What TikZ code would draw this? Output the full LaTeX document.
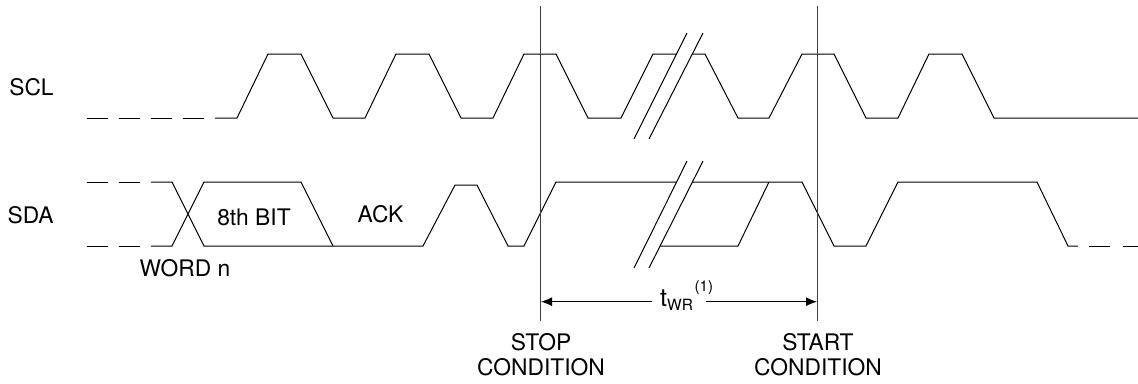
\documentclass[tikz,border=0pt]{standalone}
\usepackage{fontspec}
\setmainfont{TeX Gyre Heros}
\usetikzlibrary{arrows.meta}
\begin{document}
\begin{tikzpicture}[x=1pt,y=-1pt,
  wave/.style={line width=1pt,line join=miter},
  dsh/.style={line width=1pt,dash pattern=on 21pt off 11pt},
  vline/.style={line width=1.2pt,black!75},
  brk/.style={line width=1pt},
  gapfill/.style={fill=white,draw=none},
  lbl/.style={inner sep=0pt,font=\fontsize{22.8}{25}\selectfont},
  meas/.style={line width=1pt,-{Latex[length=11pt,width=9pt]}}]
\useasboundingbox (0,0) rectangle (1138,383);
% ---------- SCL ----------
\draw[dsh] (87,118) -- (215,118);
\draw[wave] (215,118) -- (237,118) -- (268,54) -- (301,54) -- (333,118) -- (365,118)
  -- (396,54) -- (429,54) -- (461,118) -- (493,118) -- (524,54) -- (556,54)
  -- (588,118) -- (621,118) -- (653,54) -- (705,54) -- (738,118) -- (769,118)
  -- (802,54) -- (834,54) -- (866,118) -- (898,118) -- (929,54) -- (962,54)
  -- (994,118) -- (1138,118);
% ---------- SDA ----------
\draw[dsh] (87,182) -- (151,182);
\draw[dsh] (87,246) -- (151,246);
\draw[wave] (151,182) -- (172,182) -- (204,246) -- (423,246) -- (455,185) -- (477,185)
  -- (508,246) -- (524,246) -- (556,182) -- (802,182) -- (834,246) -- (866,246)
  -- (898,182) -- (1037,182) -- (1068,246) -- (1078,246);
\draw[wave] (151,246) -- (172,246) -- (204,182) -- (301,182) -- (333,246);
\draw[wave] (660,246) -- (738,246) -- (769,182);
\draw[wave] (1089,246) -- (1110,246);
\draw[wave] (1123,246) -- (1138,246);
% ---------- break marks ----------
\fill[gapfill] (634,139) -- (687,33) -- (703,33) -- (649,139) -- cycle;
\draw[brk] (634,139) -- (687,33);
\draw[brk] (649,139) -- (703,33);
\fill[gapfill] (634,268) -- (687,161) -- (703,161) -- (649,268) -- cycle;
\draw[brk] (634,268) -- (687,161);
\draw[brk] (649,268) -- (703,161);
% ---------- condition lines ----------
\coordinate (stoptop) at (540.5,6);
\coordinate (stopbot) at (540.5,321);
\coordinate (starttop) at (817.5,6);
\coordinate (startbot) at (817.5,321);
\draw[vline] (stoptop) -- (stopbot);
\draw[vline] (starttop) -- (startbot);
% ---------- t_WR ----------
\coordinate (stopa) at (541,301.7);
\coordinate (starta) at (817,301.7);
\coordinate (gl) at (652,301.7);
\coordinate (gr) at (706,301.7);
\draw[meas] (gl) -- (stopa);
\draw[meas] (gr) -- (starta);
\node[lbl,anchor=base west,font=\fontsize{25}{27}\selectfont] (twr) at (660,306)
  {t\raisebox{-4pt}{\fontsize{15.5}{17}\selectfont WR}};
\node[lbl,anchor=base west,font=\fontsize{15}{17}\selectfont] (sup) at (694.5,291) {(1)};
% ---------- labels ----------
\node[lbl] (scl) at (31.5,87) {SCL};
\node[lbl] (sda) at (30.7,215.5) {SDA};
\node[lbl] (bit) at (254,217.5) {8th BIT};
\node[lbl] (ack) at (380.5,214.5) {ACK};
\node[lbl] (word) at (185,268) {WORD n};
\node[lbl,align=center] (stop) at (541,355) {STOP\\CONDITION};
\node[lbl,align=center] (start) at (818,355) {START\\CONDITION};
\end{tikzpicture}
\end{document}
